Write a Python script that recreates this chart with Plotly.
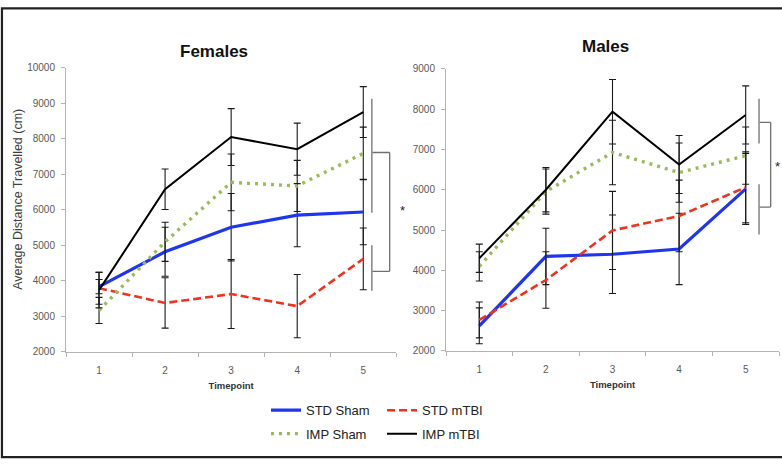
import plotly.graph_objects as go

# data
timepoints = [1, 2, 3, 4, 5]
series_names = ["STD Sham", "STD mTBI", "IMP Sham", "IMP mTBI"]

female_std_sham = [3840, 4820, 5510, 5850, 5940]
female_std_mtbi = [3795, 3380, 3630, 3290, 4620]
female_imp_sham = [3170, 5100, 6775, 6675, 7590]
female_imp_mtbi = [3740, 6580, 8050, 7710, 8755]

female_std_sham_err = [200, 690, 950, 890, 920]
female_std_mtbi_err = [450, 710, 970, 890, 870]
female_imp_sham_err = [367, 550, 800, 720, 740]
female_imp_mtbi_err = [500, 570, 800, 734, 715]

male_std_sham = [2625, 4345, 4400, 4530, 6020]
male_std_mtbi = [2770, 3760, 4990, 5350, 6060]
male_imp_sham = [4100, 5955, 6925, 6425, 6845]
male_imp_mtbi = [4300, 6000, 7935, 6625, 7855]

male_std_sham_err = [444, 700, 975, 885, 880]
male_std_mtbi_err = [444, 700, 970, 888, 880]
male_imp_sham_err = [363, 560, 800, 735, 710]
male_imp_mtbi_err = [350, 550, 800, 720, 720]

styles = {
    "STD Sham": dict(color="#1f35f0", width=3.2, dash="solid"),
    "STD mTBI": dict(color="#f0321e", width=2.6, dash="8px,4px"),
    "IMP Sham": dict(color="#9bbb59", width=3.4, dash="3px,5px"),
    "IMP mTBI": dict(color="#000000", width=2, dash="solid"),
}
legend_of = {"STD Sham": "legend", "STD mTBI": "legend",
             "IMP Sham": "legend2", "IMP mTBI": "legend2"}

female = {
    "STD Sham": (female_std_sham, female_std_sham_err),
    "STD mTBI": (female_std_mtbi, female_std_mtbi_err),
    "IMP Sham": (female_imp_sham, female_imp_sham_err),
    "IMP mTBI": (female_imp_mtbi, female_imp_mtbi_err),
}
male = {
    "STD Sham": (male_std_sham, male_std_sham_err),
    "STD mTBI": (male_std_mtbi, male_std_mtbi_err),
    "IMP Sham": (male_imp_sham, male_imp_sham_err),
    "IMP mTBI": (male_imp_mtbi, male_imp_mtbi_err),
}

FONT = "Liberation Sans, Arial, sans-serif"

fig = go.Figure()

for panel, xa, ya, show in [(female, "x", "y", True), (male, "x2", "y2", False)]:
    for name in series_names:
        vals, errs = panel[name]
        fig.add_trace(go.Scatter(
            x=timepoints, y=vals, name=name, mode="lines",
            xaxis=xa, yaxis=ya, showlegend=show, legend=legend_of[name],
            line=styles[name],
            error_y=dict(type="data", array=errs, visible=True,
                         color="#1a1a1a", thickness=1.1, width=3.5),
        ))

axis_common = dict(showgrid=False, zeroline=False, showline=True,
                   linecolor="#b3b3b3", linewidth=1)
xaxis_common = dict(axis_common, range=[0.5, 5.5], tickvals=timepoints,
                    ticks="", ticklabelstandoff=9,
                    tickfont=dict(family=FONT, size=10, color="#595959"),
                    minor=dict(tickvals=[0.5, 1.5, 2.5, 3.5, 4.5, 5.5],
                               ticks="outside", ticklen=4, tickcolor="#b3b3b3"),
                    title=dict(text="<b>Timepoint</b>", standoff=7,
                               font=dict(family=FONT, size=9.5, color="#333")))
yaxis_common = dict(axis_common, dtick=1000, tickformat="d", ticks="outside",
                    ticklen=4, ticklabelstandoff=4, tickcolor="#b3b3b3",
                    tickfont=dict(family=FONT, size=10, color="#595959"))

fig.update_layout(
    width=782, height=467,
    margin=dict(l=0, r=0, t=0, b=0),
    paper_bgcolor="white", plot_bgcolor="white",
    font=dict(family=FONT),
    xaxis=dict(xaxis_common, domain=[66 / 782, 396.3 / 782], anchor="y"),
    yaxis=dict(yaxis_common, range=[2000, 10000],
               domain=[1 - 354.3 / 467, 1 - 63.3 / 467], anchor="x"),
    xaxis2=dict(xaxis_common, domain=[446 / 782, 779 / 782], anchor="y2"),
    yaxis2=dict(yaxis_common, range=[2000, 9000],
                domain=[1 - 353.3 / 467, 1 - 64.3 / 467], anchor="x2"),
    legend=dict(orientation="h", x=266 / 782, xanchor="left",
                y=1 - 414 / 467, yanchor="middle", entrywidth=71,
                font=dict(family=FONT, size=13, color="#222"),
                bgcolor="rgba(0,0,0,0)"),
    legend2=dict(orientation="h", x=266 / 782, xanchor="left",
                 y=1 - 438 / 467, yanchor="middle", entrywidth=71,
                 font=dict(family=FONT, size=13, color="#222"),
                 bgcolor="rgba(0,0,0,0)"),
)

# panel titles, y-axis title and significance stars
labels = [
    ("<b>Females</b>", 214, 46.5, 17, "#111", 0),
    ("<b>Males</b>", 605, 41.5, 17, "#111", 0),
    ("Average Distance Travelled (cm)", 18, 198.5, 12.5, "#404040", -90),
    ("*", 402, 209, 13, "#222", 0),
    ("*", 777, 164, 13, "#222", 0),
]
for text, px, py, size, color, angle in labels:
    fig.add_annotation(text=text, x=px / 782, y=1 - py / 467, xref="paper", yref="paper",
                       xanchor="center", yanchor="middle", textangle=angle,
                       showarrow=False, font=dict(family=FONT, size=size, color=color))

# significance brackets
bracket = dict(color="#707070", width=1.3)
for xa, ya, xl, xr, up, lo, ht, hb in [
    ("x", "y", 5.13, 5.40, (9130, 5920), (5005, 3720), 7615, 4270),
    ("x2", "y2", 5.20, 5.375, (8255, 7145), (6135, 4890), 7670, 5570),
]:
    fig.add_shape(type="line", xref=xa, yref=ya, x0=xl, x1=xl, y0=up[0], y1=up[1], line=bracket)
    fig.add_shape(type="line", xref=xa, yref=ya, x0=xl, x1=xl, y0=lo[0], y1=lo[1], line=bracket)
    fig.add_shape(type="line", xref=xa, yref=ya, x0=xl + 0.01, x1=xr, y0=ht, y1=ht, line=bracket)
    fig.add_shape(type="line", xref=xa, yref=ya, x0=xl + 0.01, x1=xr, y0=hb, y1=hb, line=bracket)
    fig.add_shape(type="line", xref=xa, yref=ya, x0=xr, x1=xr, y0=ht, y1=hb, line=bracket)

# frame around the whole figure (open on the right, as in the scan)
fig.add_shape(type="rect", xref="paper", yref="paper", x0=0.0025, x1=1.02,
              y0=1 - 462 / 467, y1=1 - 2.5 / 467, line=dict(color="#222", width=2.2))

# the page's default body margin would shift the figure by 8px
fig.write_html("out.html", config={"displayModeBar": False},
               post_script="document.body.style.margin='0';")
